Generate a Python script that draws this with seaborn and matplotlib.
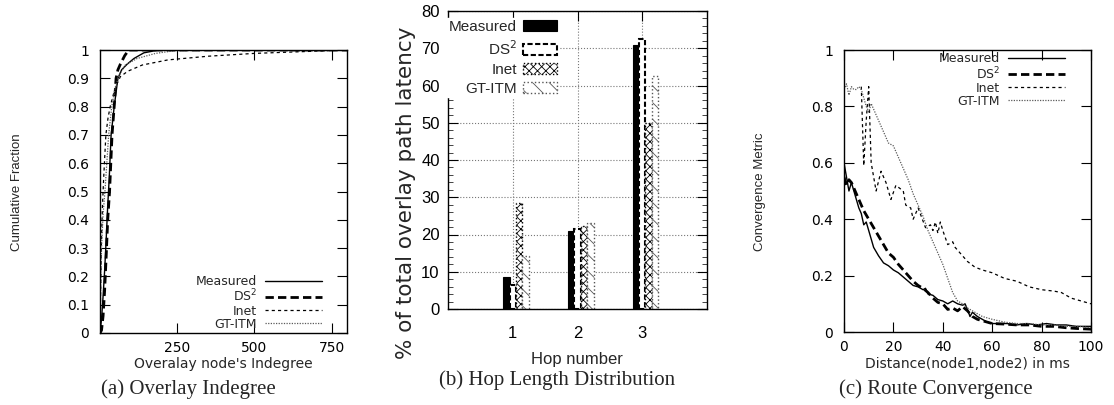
import numpy as np
import pandas as pd
import matplotlib
matplotlib.use("Agg")
import matplotlib.pyplot as plt
from matplotlib import font_manager as fm
import seaborn as sns

# ---------------- data ----------------
series_names = ["Measured", "DS$^2$", "Inet", "GT-ITM"]

# (a) CDF of overlay indegree
a_meas_x = [0, 5, 10, 15, 20, 25, 30, 36, 46, 52, 58, 70, 88, 110, 142, 190, 800]
a_meas_y = [0, 0.05, 0.13, 0.22, 0.33, 0.45, 0.55, 0.70, 0.80, 0.85, 0.90, 0.93, 0.95, 0.97, 0.99, 1.0, 1.0]
a_ds2_x = [0, 5, 10, 15, 20, 25, 31, 39, 46, 52, 58, 66, 80, 93, 800]
a_ds2_y = [0, 0.01, 0.06, 0.15, 0.27, 0.40, 0.50, 0.70, 0.80, 0.90, 0.93, 0.95, 0.98, 1.0, 1.0]
a_inet_x = [0, 2, 4, 8, 12, 19, 26, 33, 45, 55, 66, 90, 137, 220, 350, 500, 750, 800]
a_inet_y = [0, 0.15, 0.30, 0.45, 0.55, 0.70, 0.76, 0.80, 0.85, 0.88, 0.906, 0.925, 0.947, 0.965, 0.978, 0.988, 0.998, 1.0]
a_gt_x = [0, 2, 5, 10, 16, 22, 28, 38, 50, 62, 82, 120, 180, 245, 800]
a_gt_y = [0, 0.15, 0.30, 0.42, 0.50, 0.60, 0.70, 0.80, 0.87, 0.91, 0.947, 0.97, 0.988, 0.998, 1.0]

# (b) hop length distribution (% of total overlay path latency)
hops = [1, 2, 3]
b_measured = [8.5, 21.0, 70.9]
b_ds2 = [6.5, 21.4, 72.4]
b_inet = [28.5, 22.3, 49.8]
b_gt = [14.3, 23.2, 62.5]

# (c) route convergence
c_meas_x = [0, 1, 2, 3, 4, 5, 6, 7, 8, 9, 10, 11, 12, 14, 16, 18, 20, 22, 24, 26, 28, 30, 32, 33, 34,
            36, 38, 40, 42, 44, 46, 48, 49, 50, 51, 52, 54, 56, 58, 60, 63, 66, 70, 74, 78, 82, 86, 90, 94, 98, 100]
c_meas_y = [0.60, 0.55, 0.50, 0.53, 0.50, 0.47, 0.44, 0.42, 0.38, 0.39, 0.36, 0.33, 0.30, 0.27, 0.245, 0.235,
            0.22, 0.21, 0.195, 0.18, 0.165, 0.16, 0.15, 0.155, 0.135, 0.13, 0.115, 0.11, 0.10, 0.11, 0.10, 0.095,
            0.10, 0.08, 0.055, 0.07, 0.055, 0.045, 0.035, 0.03, 0.03, 0.03, 0.025, 0.03, 0.025, 0.03, 0.025,
            0.025, 0.02, 0.02, 0.02]
c_ds2_x = [0, 1, 2, 3, 4, 6, 8, 10, 12, 14, 16, 18, 20, 22, 24, 26, 28, 30, 32, 34, 36, 38, 40, 42, 44, 46,
           48, 50, 52, 54, 56, 58, 60, 65, 70, 75, 80, 85, 90, 95, 100]
c_ds2_y = [0.55, 0.52, 0.54, 0.53, 0.51, 0.47, 0.43, 0.40, 0.37, 0.34, 0.31, 0.28, 0.265, 0.24, 0.22, 0.20,
           0.18, 0.165, 0.155, 0.14, 0.12, 0.105, 0.10, 0.08, 0.085, 0.075, 0.09, 0.075, 0.055, 0.045, 0.04,
           0.035, 0.03, 0.028, 0.025, 0.025, 0.02, 0.02, 0.015, 0.012, 0.01]
c_inet_x = [7, 8, 9, 10, 11, 13, 15, 17, 19, 21, 24, 25, 27, 28, 30, 33, 35, 36, 37, 38, 39, 40, 42, 44, 45,
            47, 50, 53, 56, 60, 65, 70, 75, 80, 85, 88, 92, 96, 100]
c_inet_y = [0.87, 0.59, 0.75, 0.87, 0.60, 0.50, 0.57, 0.53, 0.47, 0.52, 0.50, 0.45, 0.44, 0.40, 0.44, 0.37,
            0.38, 0.36, 0.39, 0.35, 0.39, 0.36, 0.31, 0.32, 0.30, 0.28, 0.25, 0.23, 0.22, 0.21, 0.19, 0.18,
            0.16, 0.15, 0.145, 0.14, 0.12, 0.11, 0.10]
c_gt_x = [0, 1, 2, 3, 4, 5, 6, 7, 8, 9, 10, 11, 12, 14, 16, 18, 20, 22, 24, 26, 28, 30, 32, 34, 36, 38, 40,
          42, 44, 46, 48, 50, 53, 56, 60, 65, 70, 75, 80, 85, 90, 95, 100]
c_gt_y = [0.86, 0.88, 0.84, 0.87, 0.86, 0.86, 0.87, 0.86, 0.83, 0.80, 0.78, 0.81, 0.79, 0.75, 0.71, 0.67,
          0.66, 0.62, 0.58, 0.54, 0.49, 0.45, 0.41, 0.36, 0.32, 0.28, 0.24, 0.19, 0.14, 0.11, 0.10, 0.085,
          0.07, 0.055, 0.045, 0.035, 0.03, 0.03, 0.025, 0.025, 0.02, 0.02, 0.015]

# ---------------- style ----------------
sns.set_theme(style="ticks")
names = {f.name for f in fm.fontManager.ttflist}
NARROW = "Liberation Sans Narrow" if "Liberation Sans Narrow" in names else "Liberation Sans"
plt.rcParams["font.family"] = ["DejaVu Sans"]
plt.rcParams["hatch.linewidth"] = 0.6
plt.rcParams["axes.linewidth"] = 1.0

line_styles = [
    dict(color="black", linewidth=1.0, linestyle="-"),
    dict(color="black", linewidth=2.0, linestyle=(0, (3, 1.5))),
    dict(color="black", linewidth=0.9, linestyle=(0, (2.5, 2.5))),
    dict(color="#5a5a5a", linewidth=0.9, linestyle=(0, (1, 1.1))),
]

W, H = 1114, 405
fig = plt.figure(figsize=(W / 100, H / 100), dpi=100)
fig.patch.set_facecolor("white")


def px_axes(l, t, r, b):
    return fig.add_axes([l / W, 1 - b / H, (r - l) / W, (b - t) / H])


axA = px_axes(100, 50, 347, 333)
axB = px_axes(448, 11, 707, 309)
axC = px_axes(844, 50, 1091, 332)

for ax in (axA, axB, axC):
    ax.set_facecolor("white")
    for s in ax.spines.values():
        s.set_color("black")
        s.set_linewidth(1.0)
    ax.tick_params(direction="in", top=True, right=True, length=7, width=0.8, colors="black")

leg_line_kw = dict(frameon=False, markerfirst=False, prop=dict(family="DejaVu Sans", size=9),
                   handlelength=4.6, handletextpad=0.6, labelspacing=0.0, borderpad=0, borderaxespad=0)

# ---------------- (a) ----------------
a_data = [(a_meas_x, a_meas_y), (a_ds2_x, a_ds2_y), (a_inet_x, a_inet_y), (a_gt_x, a_gt_y)]
for (xs, ys), name, st in zip(a_data, series_names, line_styles):
    sns.lineplot(x=xs, y=ys, ax=axA, label=name, estimator=None, sort=False, **st)
axA.set_xlim(0, 800)
axA.set_ylim(0, 1)
axA.set_xticks([250, 500, 750])
axA.set_yticks(np.arange(0, 1.01, 0.1))
axA.set_yticklabels(["0"] + [f"{v:.1f}" for v in np.arange(0.1, 0.95, 0.1)] + ["1"])
for lab in axA.get_xticklabels() + axA.get_yticklabels():
    lab.set_fontfamily("DejaVu Sans")
    lab.set_fontsize(10)
axA.tick_params(axis="y", pad=8)
axA.tick_params(axis="x", pad=6)
axA.set_xlabel("Overalay node's Indegree", fontsize=10, family="DejaVu Sans")
axA.xaxis.set_label_coords(0.498, -0.1095)
axA.xaxis.label.set_va("center")
axA.set_ylabel("Cumulative Fraction", fontsize=9.5, family=NARROW)
axA.yaxis.set_label_coords(-0.336, 0.498)
axA.yaxis.label.set_va("center")
axA.legend(loc="lower right", bbox_to_anchor=(0.899, 0.008), **leg_line_kw)

# ---------------- (b) ----------------
offsets = [-0.1, 0.0, 0.1, 0.2]
bar_styles = [
    dict(facecolor="black", edgecolor="black", linewidth=0.8),
    dict(facecolor="white", edgecolor="black", linewidth=1.5, linestyle=(0, (2.5, 1.2))),
    dict(facecolor="white", edgecolor="black", linewidth=1.0, linestyle=":", hatch="xxxx"),
    dict(facecolor="white", edgecolor="#555555", linewidth=1.0, linestyle=":", hatch="\\\\"),
]
b_df = pd.DataFrame({"hop": hops, "Measured": b_measured, "DS2": b_ds2, "Inet": b_inet, "GT-ITM": b_gt})
for col, name, off, st in zip(["Measured", "DS2", "Inet", "GT-ITM"], series_names, offsets, bar_styles):
    axB.bar(b_df["hop"] + off, b_df[col], width=0.1, label=name, zorder=2, **st)
axB.set_xlim(0, 4)
axB.set_ylim(0, 80)
axB.set_xticks(hops)
axB.set_yticks(np.arange(0, 81, 10))
axB.set_yticks(np.arange(0, 81, 2), minor=True)
axB.tick_params(axis="y", which="minor", direction="in", left=True, right=True, length=3.5, width=0.6)
axB.grid(True, which="major", linestyle=":", color="#777777", linewidth=0.8)
axB.set_axisbelow(True)
for lab in axB.get_xticklabels() + axB.get_yticklabels():
    lab.set_fontfamily(NARROW)
    lab.set_fontsize(12)
axB.tick_params(axis="y", pad=6)
axB.tick_params(axis="x", pad=12)
axB.set_xlabel("Hop number", fontsize=12, family=NARROW)
axB.xaxis.set_label_coords(0.498, -0.171)
axB.xaxis.label.set_va("center")
axB.set_ylabel("% of total overlay path latency", fontsize=15.5, family="DejaVu Sans")
axB.yaxis.set_label_coords(-0.162, 0.389)
axB.yaxis.label.set_va("center")
legB = axB.legend(loc="upper right", bbox_to_anchor=(0.425, 0.975), frameon=True, markerfirst=False,
                  prop=dict(family=NARROW, size=11), handlelength=2.2, handleheight=0.7,
                  handletextpad=0.4, labelspacing=0.33, borderpad=0.1, borderaxespad=0,
                  facecolor="white", edgecolor="white", framealpha=1.0, fancybox=False)
legB.set_zorder(5)

# ---------------- (c) ----------------
c_data = [(c_meas_x, c_meas_y), (c_ds2_x, c_ds2_y), (c_inet_x, c_inet_y), (c_gt_x, c_gt_y)]
for (xs, ys), name, st in zip(c_data, series_names, line_styles):
    sns.lineplot(x=xs, y=ys, ax=axC, label=name, estimator=None, sort=False, **st)
axC.set_xlim(0, 100)
axC.set_ylim(0, 1)
axC.set_xticks(np.arange(0, 101, 20))
axC.set_yticks(np.arange(0, 1.01, 0.2))
axC.set_yticklabels(["0", "0.2", "0.4", "0.6", "0.8", "1"])
for lab in axC.get_xticklabels() + axC.get_yticklabels():
    lab.set_fontfamily("DejaVu Sans")
    lab.set_fontsize(10)
axC.tick_params(axis="y", pad=8)
axC.tick_params(axis="x", pad=6)
axC.set_xlabel("Distance(node1,node2) in ms", fontsize=10, family="DejaVu Sans")
axC.xaxis.set_label_coords(0.498, -0.113)
axC.xaxis.label.set_va("center")
axC.set_ylabel("Convergence Metric", fontsize=9.5, family=NARROW)
axC.yaxis.set_label_coords(-0.34, 0.496)
axC.yaxis.label.set_va("center")
axC.legend(loc="upper right", bbox_to_anchor=(0.895, 0.992), **leg_line_kw)

# ---------------- captions ----------------
cap_font = dict(family="Liberation Serif", size=15, ha="center", va="center")
fig.text(188 / W, 1 - 389 / H, "(a) Overlay Indegree", **cap_font)
fig.text(557 / W, 1 - 380 / H, "(b) Hop Length Distribution", **cap_font)
fig.text(936 / W, 1 - 389 / H, "(c) Route Convergence", **cap_font)

fig.savefig("out.png", dpi=100, facecolor="white")
